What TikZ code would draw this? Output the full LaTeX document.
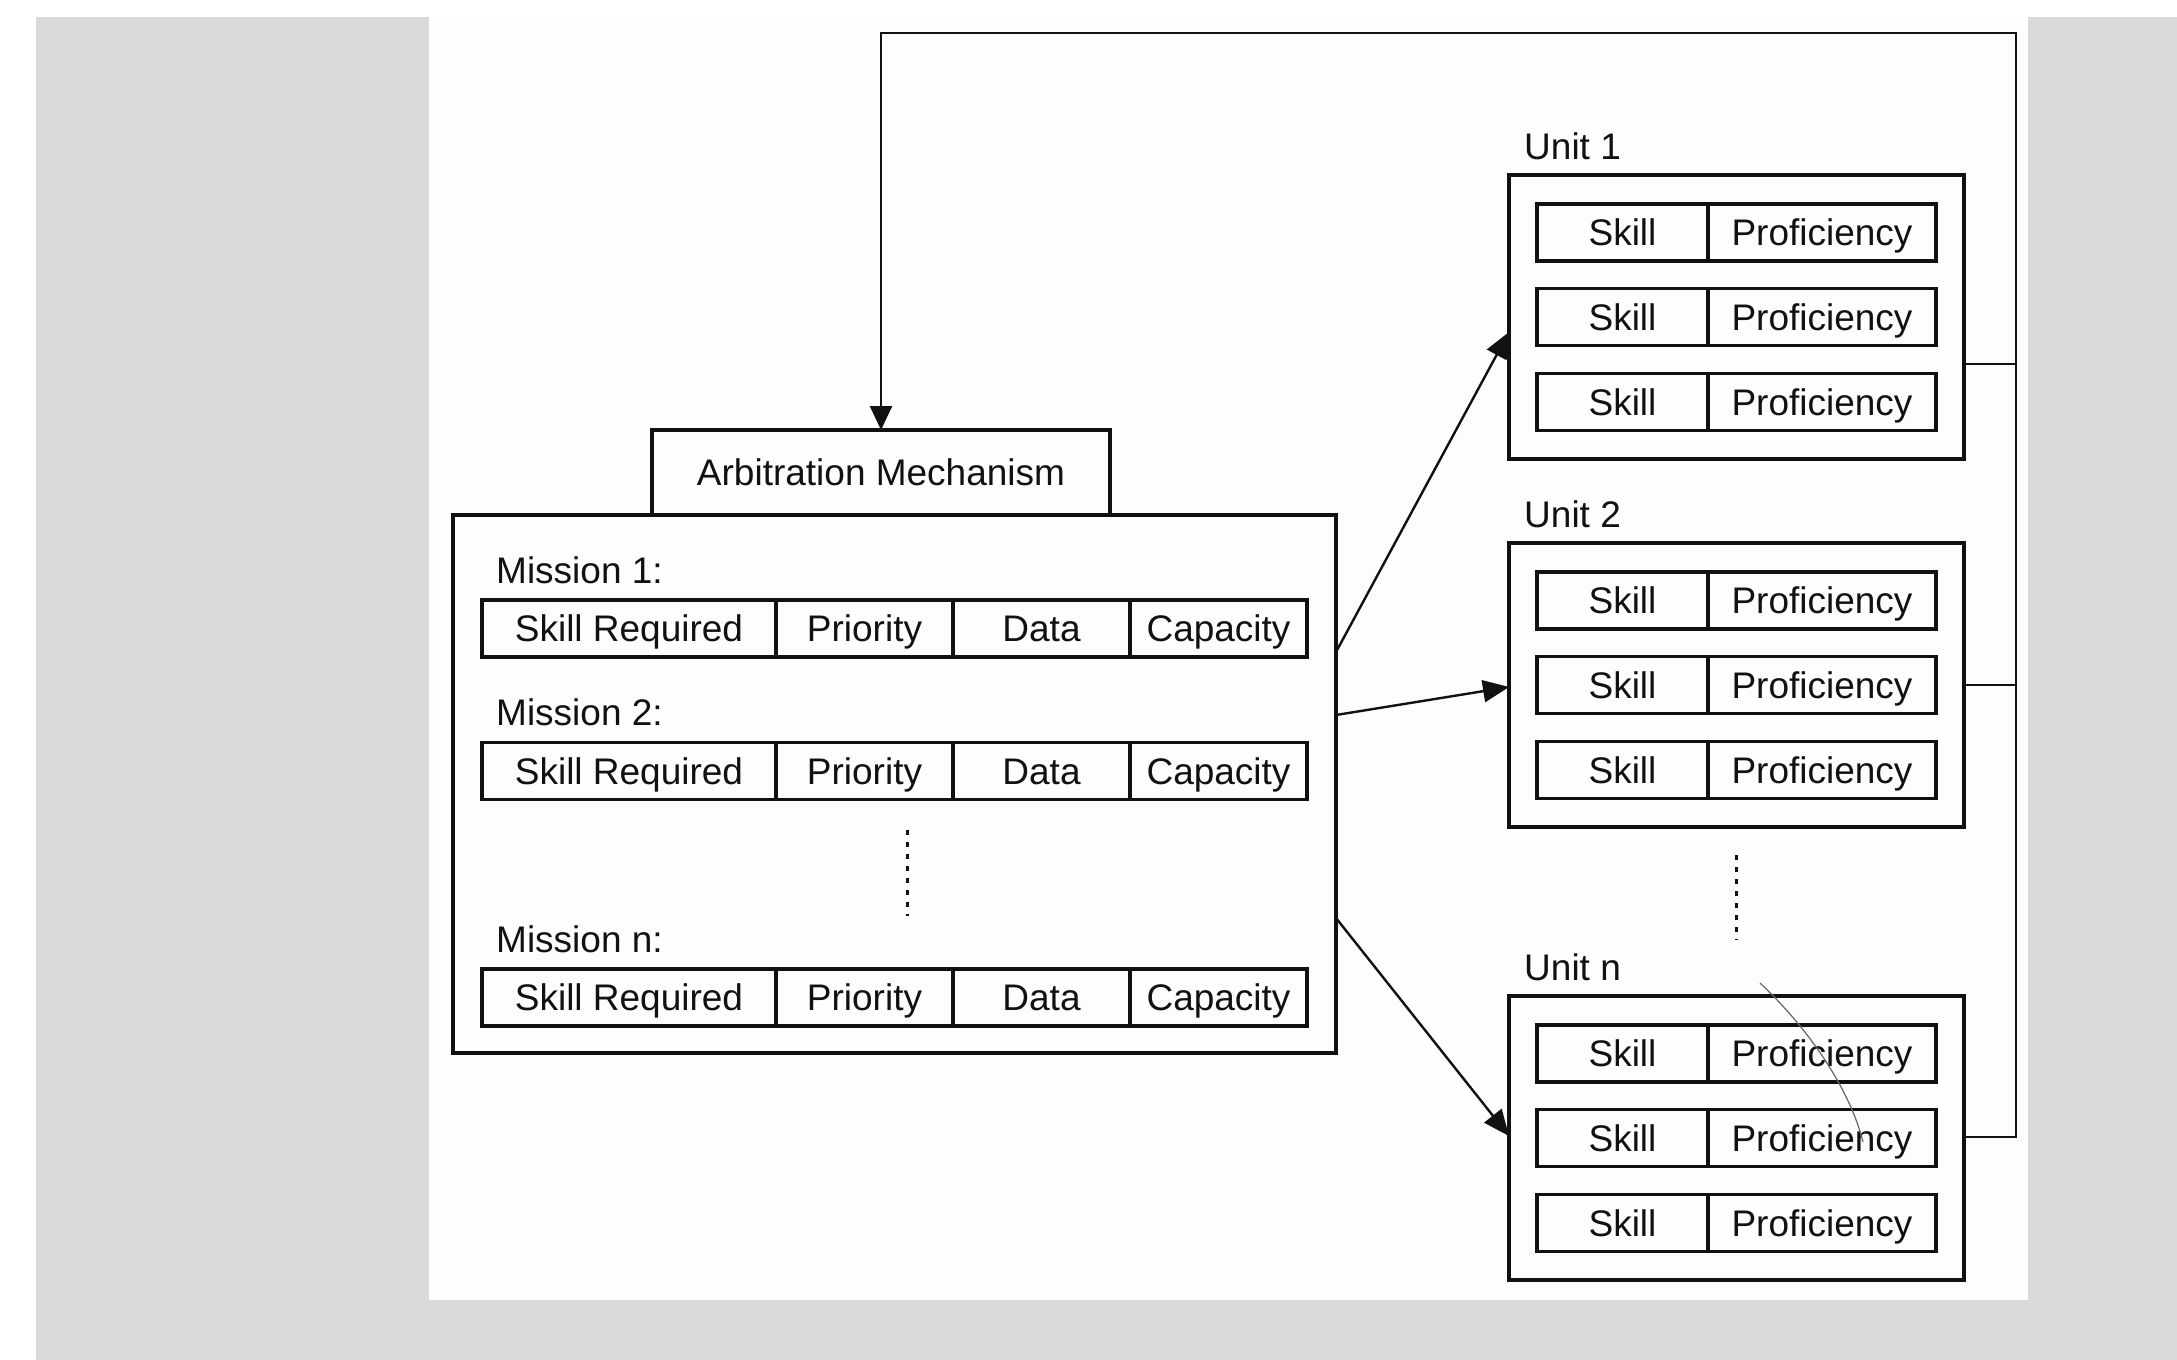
\documentclass[tikz,border=0pt]{standalone}
\usepackage{fontspec}
\setmainfont{Liberation Sans}
\usetikzlibrary{arrows.meta,calc}
\definecolor{ink}{HTML}{111111}
\definecolor{bgray}{HTML}{D9D9D9}
\definecolor{panel}{HTML}{FDFDFD}
\begin{document}
\begin{tikzpicture}[x=1pt,y=-1pt,
  txt/.style={font=\fontsize{37}{44}\selectfont, text=ink},
  box/.style={draw=ink, line width=3.2pt, inner sep=0pt, outer sep=0pt},
  cell/.style={box, txt, minimum height=57pt, text height=26pt, text depth=0pt, anchor=west},
  lbl/.style={txt, anchor=base west, inner sep=0pt},
  conn/.style={draw=ink, line width=2.4pt},
  arr/.style={conn, -{Triangle[length=26pt,width=22pt]}},
  dotsline/.style={draw=ink, line width=3pt, dash pattern=on 5pt off 7pt},
]
\useasboundingbox (0,0) rectangle (2177,1360);
\fill[white] (0,0) rectangle (2177,1360);
\fill[bgray] (36,17) rectangle (2177,1360);
\fill[panel] (429,17) rectangle (2028,1300);

% Arbitration and mission box
\node[box, txt, minimum width=458pt, minimum height=85pt, text height=26pt, text depth=0pt] (arb) at (881,472.5) {Arbitration Mechanism};
\node[box, minimum width=883pt, minimum height=538pt, anchor=north west] (mbox) at (453,515) {};

% Mission labels
\node[lbl] (lm1) at (496,583) {Mission 1:};
\node[lbl] (lm2) at (496,725) {Mission 2:};
\node[lbl] (lmn) at (496,952) {Mission n:};

% Mission rows
\foreach \r/\yc in {1/628.5, 2/771, n/997.5} {
  \node[cell, minimum width=294pt] (m\r a) at (482,\yc) {Skill Required};
  \node[cell, minimum width=177pt] (m\r b) at (m\r a.east) {Priority};
  \node[cell, minimum width=177pt] (m\r c) at (m\r b.east) {Data};
  \node[cell, minimum width=177pt] (m\r d) at (m\r c.east) {Capacity};
}

% Mission dots
\coordinate (md1) at (907,830);
\coordinate (md2) at (907,916);
\draw[dotsline] (md1) -- (md2);

% Units
\foreach \u/\T in {1/175, 2/543, n/996} {
  \node[box, minimum width=455pt, minimum height=284pt, anchor=north west] (u\u) at (1509,\T) {};
  \node[lbl] (lu\u) at (1524,\T-16) {Unit \u};
  \foreach \k/\off in {1/57.5, 2/142, 3/227} {
    \node[cell, minimum width=171pt] (u\u s\k) at (1537,\T+\off) {Skill};
    \node[cell, minimum width=228pt] (u\u p\k) at (u\u s\k.east) {Proficiency};
  }
}

% Unit dots
\coordinate (ud1) at (1736,855);
\coordinate (ud2) at (1736,940);
\draw[dotsline] (ud1) -- (ud2);

% Arrows mission -> units
\coordinate (a1s) at (1336,652);  \coordinate (a1e) at (1509,332);
\coordinate (a2s) at (1336,715);  \coordinate (a2e) at (1509,687);
\coordinate (a3s) at (1336,918);  \coordinate (a3e) at (1509,1136);
\draw[arr] (mbox.east |- a1s) -- (u1.west |- a1e);
\draw[arr] (mbox.east |- a2s) -- (u2.west |- a2e);
\draw[arr] (mbox.east |- a3s) -- (un.west |- a3e);

% Feedback bus
\coordinate (bus1) at (2016,364);
\coordinate (bus2) at (2016,685);
\coordinate (bus3) at (2016,1137);
\coordinate (bustop) at (2016,33);
\draw[conn] (u1.east |- bus1) -- (bus1);
\draw[conn] (u2.east |- bus2) -- (bus2);
\draw[conn, -{Triangle[length=24pt,width=22pt]}] (un.east |- bus3) -- (bus3) -- (bustop) -| (arb.north);

% stray mark
\draw[line width=1.2pt, draw=black!60] (1760,983) .. controls (1810,1030) and (1850,1090) .. (1863,1142);
\end{tikzpicture}
\end{document}
